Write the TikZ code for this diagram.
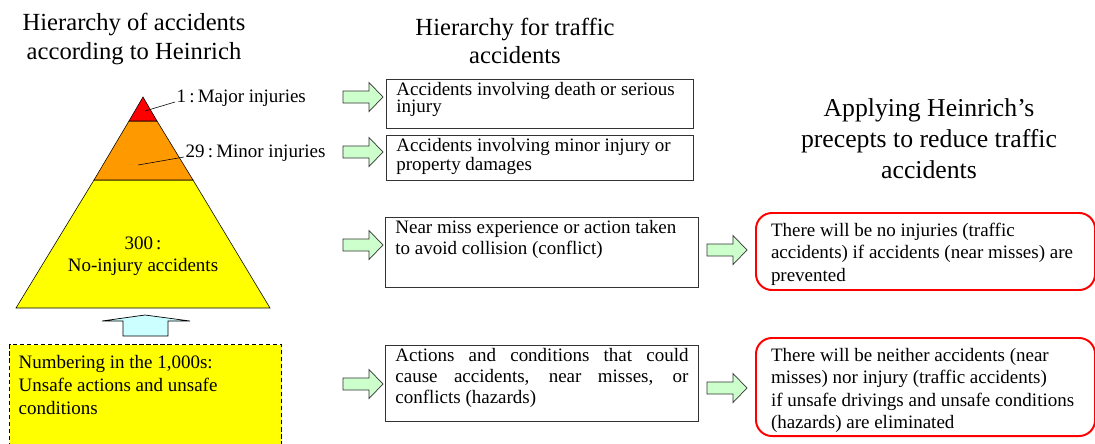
\documentclass[tikz,border=0pt]{standalone}
\usepackage{fontspec}
\setmainfont{Liberation Serif}
\usepackage{tikz}
\usetikzlibrary{positioning}
\definecolor{palegreen}{HTML}{CCFFCC}
\definecolor{palecyan}{HTML}{CCFFFF}
\definecolor{hazard}{HTML}{FFFF00}
\definecolor{minorinj}{HTML}{FF9900}
\definecolor{majorinj}{HTML}{FF0000}
\newcommand{\boxtext}[3]{\parbox[t][#2][t]{#1}{#3}}
\lineskiplimit=-10pt
\hyphenpenalty=10000

\begin{document}
\begin{tikzpicture}[x=0.025cm,y=-0.025cm,
    title/.style={align=center,inner sep=0pt,font=\fontsize{17.5}{20}\selectfont},
    level/.style={inner sep=1pt,font=\fontsize{13.5}{16}\selectfont},
    hbox/.style={draw=black!80,line width=0.6pt,anchor=north west,inner xsep=0.25cm,inner ysep=0.07cm},
    rbox/.style={draw=majorinj,line width=1.4pt,rounded corners=0.4cm,anchor=north west,inner xsep=0.375cm,inner ysep=0.25cm,font=\fontsize{13.5}{16}\selectfont},
    greenarrow/.style={draw=black!80,fill=palegreen,line width=0.5pt}]
                \clip (0,0) rectangle (1095,443);
                \node[title] (ltitle) at (134,39) {Hierarchy of accidents\\according to Heinrich};
                \node[title] (mtitle) at (515,41) {Hierarchy for traffic\\accidents};
                \node[title,font=\fontsize{18.3}{22}\selectfont] (rtitle) at (929,139) {Applying Heinrich’s\\precepts to reduce traffic\\accidents};
                \draw[fill=hazard] (94,180) -- (16,308) -- (270,308) -- (193,180) -- cycle;
                \draw[fill=minorinj] (129,121) -- (94,180) -- (193,180) -- (157,121) -- cycle;
                \draw[fill=majorinj] (143,97) -- (129,121) -- (157,121) -- cycle;
                \node[level,anchor=base west] (major) at (175,102) {1\,:\,Major injuries};
                \node[level,anchor=base west] (minor) at (184,157) {29\,:\,Minor injuries};
                \node[level,align=center] (noinj) at (143,256) {300\,:\\No-injury accidents};
                \coordinate (pmajor) at (145,111);
                \coordinate (pminor) at (138,165);
                \draw (pmajor) -- (major.base west);
                \draw (pminor) -- (minor.base west);
                \draw[fill=palecyan,line width=0.5pt] (123,336) -- (123,321) -- (102,321) -- (145,315) -- (190,321) -- (168,321) -- (168,336) -- cycle;
                \node[draw,dash pattern=on 3pt off 2pt,line width=1pt,fill=hazard,anchor=north west,inner xsep=0.225cm,inner ysep=0.275cm,font=\fontsize{13.5}{16.3}\selectfont] (unsafe) at (9,344) {\boxtext{6.35cm}{2.2cm}{\raggedright Numbering in the 1,000s:\\Unsafe actions and unsafe\\conditions}};
                \node[hbox,font=\fontsize{13.5}{12}\selectfont] (death) at (386,79) {\boxtext{7.175cm}{1.085cm}{\raggedright Accidents involving death or serious\\injury}};
                \node[hbox,font=\fontsize{13.5}{12}\selectfont] (damage) at (386,135) {\boxtext{7.175cm}{0.985cm}{\raggedright Accidents involving minor injury or\\property damages}};
                \node[hbox,font=\fontsize{13.5}{15}\selectfont] (nearmiss) at (385,217) {\boxtext{7.325cm}{1.61cm}{\raggedright Near miss experience or action taken\\to avoid collision (conflict)}};
                \node[hbox,font=\fontsize{13.5}{15}\selectfont] (hazards) at (385,345) {\boxtext{7.325cm}{1.76cm}{Actions and conditions that could\linebreak cause accidents, near misses, or\linebreak conflicts (hazards)}};
                \node[rbox] (noinjury) at (755,212) {\boxtext{7.725cm}{1.425cm}{\raggedright There will be no injuries (traffic\\accidents) if accidents (near misses) are\\prevented}};
                \node[rbox] (noaccident) at (755,337) {\boxtext{7.725cm}{1.95cm}{\raggedright There will be neither accidents (near\\misses) nor injury (traffic accidents)\\if unsafe drivings and unsafe conditions\\(hazards) are eliminated}};
                \foreach \x/\y in {343/97,343/152,343/245,343/384,707/250,707/388}
                    \draw[greenarrow] (\x,\y) ++(0,-6) -- ++(26,0) -- ++(0,-8.5) -- ++(14,14.5) -- ++(-14,14.5) -- ++(0,-8.5) -- ++(-26,0) -- cycle;
\end{tikzpicture}
\end{document}
